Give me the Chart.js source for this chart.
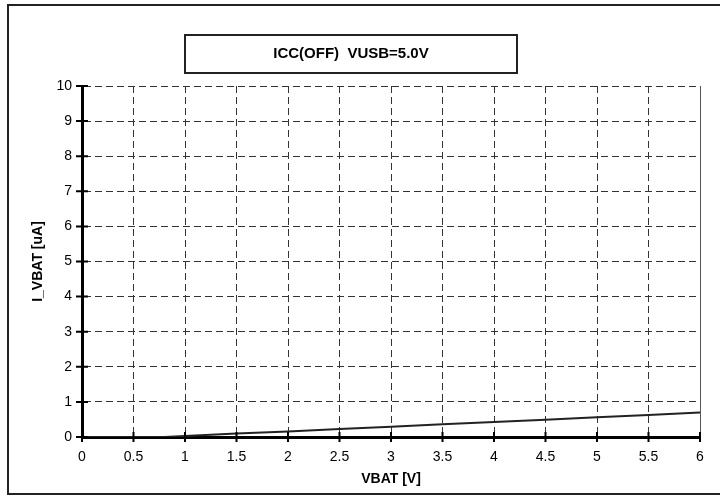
<!DOCTYPE html>
<html>
<head>
<meta charset="utf-8">
<title>ICC(OFF) VUSB=5.0V</title>
<script src="https://cdn.jsdelivr.net/npm/chart.js@4.4.1/dist/chart.umd.min.js"></script>
<style>
  html, body { margin: 0; padding: 0; background: #fff; }
  canvas { display: block; }
</style>
</head>
<body>
<canvas id="grafikIcc" width="720" height="496"></canvas>
<script>
// data
const vbat = [0, 0.5, 0.8, 1, 1.5, 2, 2.5, 3, 3.5, 4, 4.5, 5, 5.5, 6];
const iVbat = [0, 0, 0, 0.03, 0.1, 0.16, 0.23, 0.29, 0.36, 0.43, 0.49, 0.56, 0.63, 0.7];
const xTicks = [0, 0.5, 1, 1.5, 2, 2.5, 3, 3.5, 4, 4.5, 5, 5.5, 6];
const yTicks = [0, 1, 2, 3, 4, 5, 6, 7, 8, 9, 10];
const judul = 'ICC(OFF)  VUSB=5.0V';

const FONT = "'Liberation Sans', Arial, Helvetica, sans-serif";

// bingkai luar, kotak judul, garis tick yang menyilang sumbu
const bingkaiPlugin = {
    id: 'bingkai',
    beforeDraw(chart) {
        const ctx = chart.ctx;
        ctx.save();
        ctx.fillStyle = '#fff';
        ctx.fillRect(0, 0, chart.width, chart.height);
        ctx.strokeStyle = '#222';
        ctx.lineWidth = 2;
        ctx.strokeRect(8, 5, 730, 489);
        // kotak judul
        ctx.strokeRect(185, 35, 332, 38);
        ctx.fillStyle = '#000';
        ctx.font = 'bold 15px ' + FONT;
        ctx.textAlign = 'center';
        ctx.textBaseline = 'middle';
        ctx.fillText(judul, 351, 54);
        ctx.restore();
    },
    afterDraw(chart) {
        const ctx = chart.ctx;
        const x = chart.scales.x;
        const y = chart.scales.y;
        const area = chart.chartArea;
        ctx.save();
        // garis kanan solid
        ctx.strokeStyle = '#555';
        ctx.lineWidth = 1;
        ctx.beginPath();
        const xr = Math.round(x.getPixelForValue(6)) + 0.5;
        ctx.moveTo(xr, area.top);
        ctx.lineTo(xr, area.bottom);
        ctx.stroke();
        // tick menyilang
        ctx.strokeStyle = '#000';
        ctx.lineWidth = 2;
        ctx.beginPath();
        xTicks.forEach(function (v) {
            const px = x.getPixelForValue(v);
            ctx.moveTo(px, area.bottom - 5);
            ctx.lineTo(px, area.bottom + 5);
        });
        yTicks.forEach(function (v) {
            const py = y.getPixelForValue(v);
            ctx.moveTo(area.left - 6, py);
            ctx.lineTo(area.left + 6, py);
        });
        ctx.stroke();
        ctx.restore();
    }
};

const ctx = document.getElementById('grafikIcc').getContext('2d');

new Chart(ctx, {
    type: 'line',
    data: {
        datasets: [{
            label: 'I_VBAT',
            data: vbat.map(function (v, i) { return { x: v, y: iVbat[i] }; }),
            borderColor: '#222',
            borderWidth: 2,
            pointRadius: 0,
            tension: 0,
            fill: false,
        }],
    },
    options: {
        responsive: false,
        animation: false,
        layout: {
            padding: { top: 86, right: 20, bottom: 0, left: 0 },
        },
        plugins: {
            legend: { display: false },
            tooltip: { enabled: false },
            title: { display: false },
        },
        scales: {
            x: {
                type: 'linear',
                min: 0,
                max: 6,
                afterBuildTicks: function (s) {
                    s.ticks = xTicks.map(function (v) { return { value: v }; });
                },
                afterFit: function (s) { s.height = 59; },
                ticks: {
                    color: '#000',
                    font: { family: FONT, size: 14 },
                    padding: 12,
                    maxRotation: 0,
                    autoSkip: false,
                    callback: function (value) { return String(value); },
                },
                grid: {
                    color: '#333',
                    lineWidth: 1,
                    drawTicks: false,
                },
                border: {
                    display: true,
                    color: '#000',
                    width: 3,
                    dash: [7, 4],
                },
                title: {
                    display: true,
                    text: 'VBAT [V]',
                    color: '#000',
                    font: { family: FONT, size: 14, weight: 'bold' },
                    padding: { top: 0, bottom: 8 },
                },
            },
            y: {
                type: 'linear',
                min: 0,
                max: 10,
                afterBuildTicks: function (s) {
                    s.ticks = yTicks.map(function (v) { return { value: v }; });
                },
                afterFit: function (s) { s.width = 82; },
                ticks: {
                    color: '#000',
                    font: { family: FONT, size: 14 },
                    padding: 10,
                    callback: function (value) { return String(value); },
                },
                grid: {
                    color: '#333',
                    lineWidth: 1,
                    drawTicks: false,
                },
                border: {
                    display: true,
                    color: '#000',
                    width: 3,
                    dash: [7, 4],
                },
                title: {
                    display: true,
                    text: 'I_VBAT [uA]',
                    color: '#000',
                    font: { family: FONT, size: 14, weight: 'bold' },
                    padding: { top: 30, bottom: 0 },
                },
            },
        },
    },
    plugins: [bingkaiPlugin],
});
</script>
</body>
</html>
